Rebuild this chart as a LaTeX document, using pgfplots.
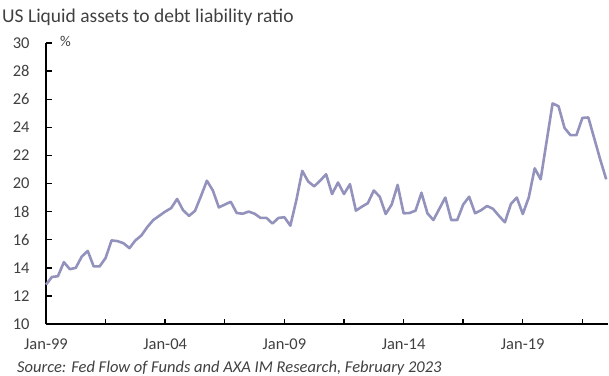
\documentclass[border=0pt]{standalone}
\usepackage{pgfplots}
\pgfplotsset{compat=1.18}
\usepackage{fontspec}
\setmainfont{Carlito}
\definecolor{linec}{RGB}{146,146,188}
\definecolor{txt}{RGB}{64,64,64}
\pgfplotstableread{
i v
0 12.8
1 13.35
2 13.4
3 14.4
4 13.9
5 14.0
6 14.8
7 15.2
8 14.1
9 14.1
10 14.7
11 15.95
12 15.9
13 15.75
14 15.4
15 15.95
16 16.3
17 16.9
18 17.4
19 17.7
20 18.0
21 18.25
22 18.9
23 18.1
24 17.7
25 18.05
26 19.1
27 20.2
28 19.5
29 18.3
30 18.5
31 18.7
32 17.9
33 17.85
34 18.0
35 17.85
36 17.55
37 17.55
38 17.15
39 17.55
40 17.6
41 17.0
42 18.8
43 20.9
44 20.14
45 19.8
46 20.2
47 20.66
48 19.25
49 20.07
50 19.25
51 19.95
52 18.07
53 18.35
54 18.6
55 19.5
56 19.06
57 17.83
58 18.5
59 19.9
60 17.88
61 17.9
62 18.07
63 19.34
64 17.88
65 17.4
66 18.2
67 19.0
68 17.4
69 17.4
70 18.5
71 19.06
72 17.88
73 18.1
74 18.4
75 18.2
76 17.7
77 17.24
78 18.54
79 19.0
80 17.83
81 19.0
82 21.08
83 20.3
84 23.0
85 25.7
86 25.5
87 23.96
88 23.44
89 23.44
90 24.67
91 24.7
92 23.2
93 21.7
94 20.3
}\ratio
\begin{document}
\begin{tikzpicture}
\useasboundingbox (0,0) rectangle (609bp,-376bp);
\begin{axis}[
  at={(46bp,-324bp)}, anchor=south west,
  width=562bp, height=281bp, scale only axis,
  xmin=0, xmax=94.3, ymin=10, ymax=30,
  axis lines*=left,
  axis line style={black, line width=1.4bp},
  ytick={10,12,...,30},
  xtick={0,10,...,90},
  xticklabels={Jan-99,,Jan-04,,Jan-09,,Jan-14,,Jan-19,},
  tick align=inside,
  major tick length=5.5bp,
  tick style={black, line width=1.4bp},
  /pgf/number format/assume math mode=true,
  ticklabel style={font=\fontsize{16.5bp}{19bp}\selectfont, text=txt},
  yticklabel style={xshift=-13bp},
  xticklabel style={yshift=-11bp},
  clip=false,
]
\addplot[linec, line width=2.6bp, line join=round] table[x=i, y=v] {\ratio};
\end{axis}
\node[anchor=west, text=txt, inner sep=0, font=\fontsize{19.5bp}{22bp}\selectfont] at (2bp,-17bp) {US Liquid assets to debt liability ratio};
\node[anchor=west, text=txt, inner sep=0, font=\fontsize{15bp}{17bp}\selectfont] at (60bp,-41bp) {\%};
\node[anchor=west, text=txt, inner sep=0, font=\fontsize{16.5bp}{19bp}\selectfont\itshape] at (17bp,-368bp) {Source: Fed Flow of Funds and AXA IM Research, February 2023};
\end{tikzpicture}
\end{document}
